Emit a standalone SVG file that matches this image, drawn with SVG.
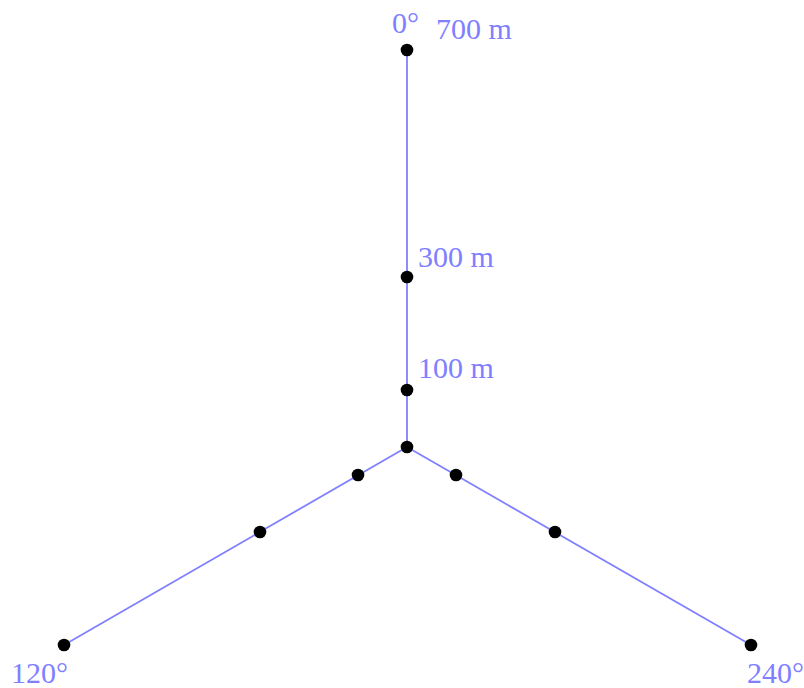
<svg xmlns="http://www.w3.org/2000/svg" width="804" height="688" viewBox="0 0 804 688">
<style>
.ln{stroke:#8080ff;stroke-width:1.8;fill:none}
.dot{fill:#000}
.lbl{font-family:"Liberation Serif","Times New Roman",serif;font-size:30px;fill:#8080ff}
</style>
<rect width="804" height="688" fill="#fff"/>
<g id="connectors">
<line class="ln" x1="407" y1="447" x2="407" y2="50"/>
<line class="ln" x1="407" y1="447" x2="64" y2="645"/>
<line class="ln" x1="407" y1="447" x2="751" y2="645"/>
</g>
<g id="center"><circle class="dot" cx="407" cy="447" r="6.3"/></g>
<g id="n0-100"><circle class="dot" cx="407" cy="390" r="6.3"/><text class="lbl" x="418" y="378">100 m</text></g>
<g id="n0-300"><circle class="dot" cx="407" cy="277" r="6.3"/><text class="lbl" x="418" y="267">300 m</text></g>
<g id="n0-700"><circle class="dot" cx="407" cy="50" r="6.3"/><text class="lbl" x="436" y="39">700 m</text><text class="lbl" x="392" y="33">0°</text></g>
<g id="n120-100"><circle class="dot" cx="358" cy="475" r="6.3"/></g>
<g id="n120-300"><circle class="dot" cx="260" cy="532" r="6.3"/></g>
<g id="n120-700"><circle class="dot" cx="64" cy="645" r="6.3"/><text class="lbl" x="11" y="683">120°</text></g>
<g id="n240-100"><circle class="dot" cx="456" cy="475" r="6.3"/></g>
<g id="n240-300"><circle class="dot" cx="555" cy="532" r="6.3"/></g>
<g id="n240-700"><circle class="dot" cx="751" cy="645" r="6.3"/><text class="lbl" x="747" y="683">240°</text></g>
</svg>
